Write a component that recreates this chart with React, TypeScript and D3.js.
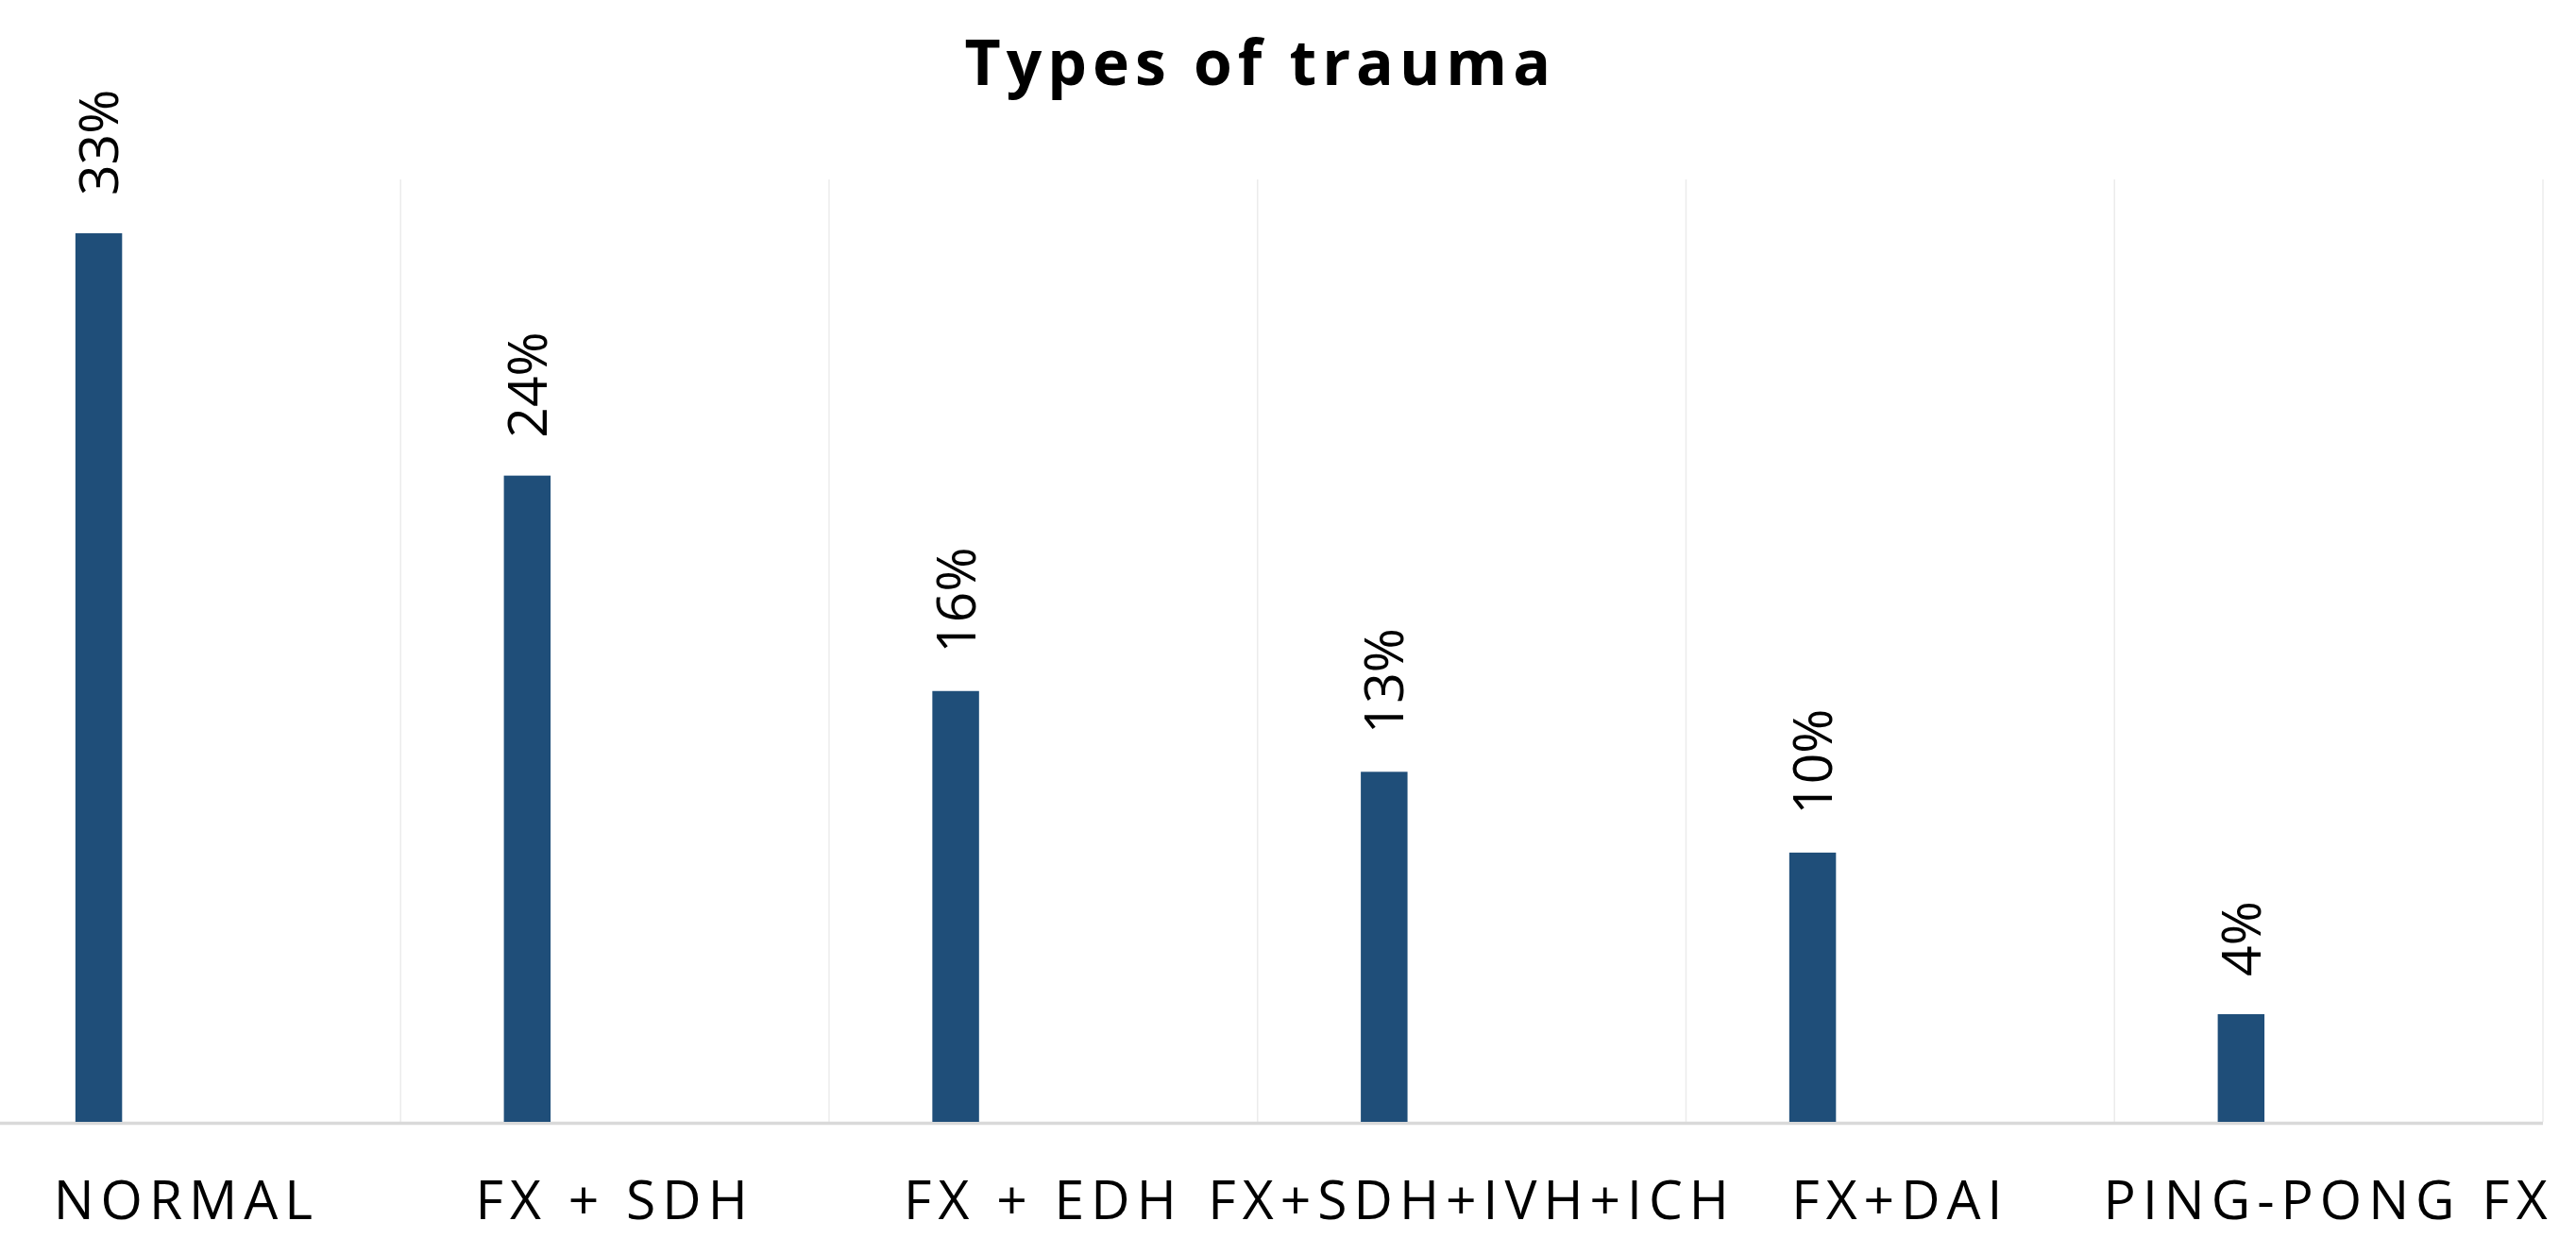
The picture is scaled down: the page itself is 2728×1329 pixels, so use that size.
import * as d3 from 'd3';

const categories = ['NORMAL', 'FX + SDH', 'FX + EDH', 'FX+SDH+IVH+ICH', 'FX+DAI', 'PING-PONG FX'];
const shares = [0.33, 0.24, 0.16, 0.13, 0.1, 0.04];
const yDomain = [0, 0.35];

const W = 2728;
const H = 1329;
const BAR_COLOR = '#1f4e79';
const margin = { top: 190, right: 35, bottom: 141, left: -29.5 };

export default function App() {
  const innerBottom = H - margin.bottom;
  const x = d3.scaleBand<string>()
    .domain(categories)
    .range([margin.left, W - margin.right])
    .paddingInner(0)
    .paddingOuter(0);
  const y = d3.scaleLinear().domain(yDomain).range([innerBottom, margin.top]);
  const bw = x.bandwidth();
  const fmt = d3.format('.0%');
  const data = categories.map((c, i) => ({ c, v: shares[i] }));
  const plotCenter = (x.range()[0] + x.range()[1]) / 2;

  return (
    <svg width={W} height={H} style={{ position: 'absolute', left: 0, top: 0, background: '#fff' }}>
      <rect width={W} height={H} fill="#fff" />
      {/* vertical gridlines at category boundaries */}
      {categories.map((c) => (
        <line key={`g-${c}`} x1={(x(c) ?? 0) + bw} x2={(x(c) ?? 0) + bw} y1={y(yDomain[1])} y2={innerBottom}
          stroke="#ececec" strokeWidth={1.5} />
      ))}
      <line x1={x.range()[0]} x2={x.range()[1]} y1={innerBottom + 1.5} y2={innerBottom + 1.5}
        stroke="#d9d9d9" strokeWidth={3.5} />

      {data.map((d) => {
        const bx = (x(d.c) ?? 0) + bw * 0.241;
        const barW = bw * 0.109;
        const cx = bx + barW / 2;
        return (
          <g key={d.c}>
            <rect x={bx} y={y(d.v)} width={barW} height={innerBottom - y(d.v)} fill={BAR_COLOR} />
            <text transform={`translate(${cx},${y(d.v) - 40}) rotate(-90)`} dy="0.36em"
              fontFamily="'Open Sans', 'Liberation Sans', sans-serif" fontSize={57} fill="#000">
              {fmt(d.v)}
            </text>
          </g>
        );
      })}

      {categories.map((c) => (
        <text key={`l-${c}`} x={(x(c) ?? 0) + bw / 2} y={innerBottom + 103} textAnchor="middle"
          fontFamily="'Open Sans', 'Liberation Sans', sans-serif" fontSize={57} letterSpacing={7} fill="#000">
          {c}
        </text>
      ))}

      <text x={plotCenter + 3} y={90} textAnchor="middle"
        fontFamily="'Open Sans', 'Liberation Sans', sans-serif" fontWeight={700} fontSize={66} letterSpacing={6}
        fill="#000">
        Types of trauma
      </text>
    </svg>
  );
}
